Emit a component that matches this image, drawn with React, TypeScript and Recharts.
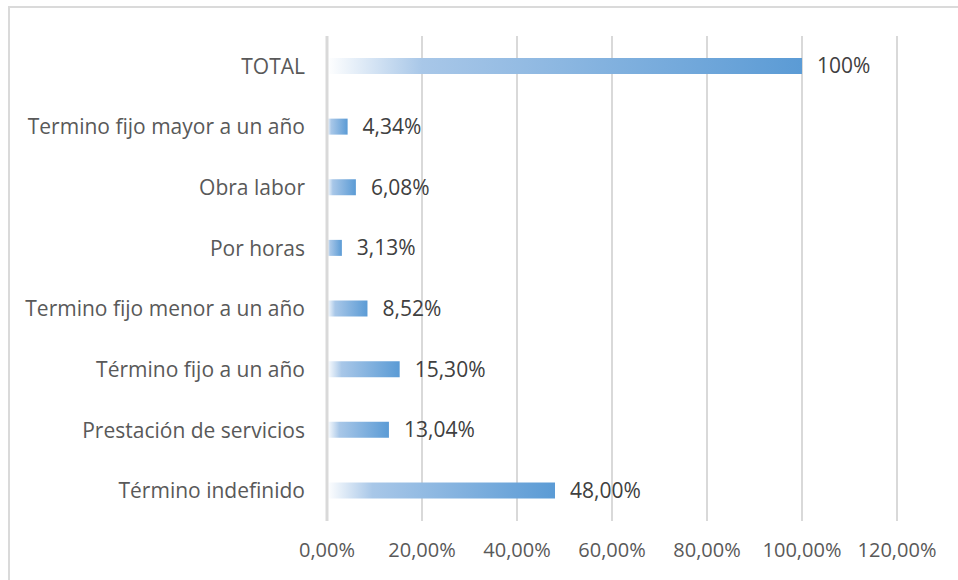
import React from 'react';
import { BarChart, Bar, XAxis, YAxis, CartesianGrid, LabelList } from 'recharts';

const categories = [
  'TOTAL',
  'Termino fijo mayor a un año',
  'Obra labor',
  'Por horas',
  'Termino fijo menor a un año',
  'Término fijo a un año',
  'Prestación de servicios',
  'Término indefinido',
];
const values = [100, 4.34, 6.08, 3.13, 8.52, 15.3, 13.04, 48.0];
const valueLabels = ['100%', '4,34%', '6,08%', '3,13%', '8,52%', '15,30%', '13,04%', '48,00%'];
const xTicks = [0, 20, 40, 60, 80, 100, 120];

const data = categories.map((c, i) => ({ name: c, value: values[i], label: valueLabels[i] }));

const FONT = '"Open Sans", sans-serif';
const fmtTick = (v: number) => v.toFixed(2).replace('.', ',') + '%';

export default function App() {
  return (
    <div style={{ position: 'absolute', left: 0, top: 0, width: 958, height: 580, overflow: 'hidden', background: '#fff' }}>
      <div style={{ position: 'absolute', left: 8, top: 6, width: 1000, height: 700, border: '2px solid #DADADA', boxSizing: 'border-box' }} />
      <div style={{ position: 'absolute', left: 0, top: 0 }}>
        <BarChart
          width={958}
          height={580}
          data={data}
          layout="vertical"
          margin={{ top: 36, right: 61, bottom: 0, left: 0 }}
          barSize={16}
        >
          <defs>
            <linearGradient id="barGrad" x1="0" y1="0" x2="1" y2="0">
              <stop offset="0%" stopColor="#FFFFFF" />
              <stop offset="20%" stopColor="#A8C7E8" />
              <stop offset="100%" stopColor="#5B9BD5" />
            </linearGradient>
          </defs>
          <CartesianGrid horizontal={false} stroke="#D9D9D9" strokeWidth={2} />
          <XAxis
            type="number"
            domain={[0, 120]}
            ticks={xTicks}
            tickFormatter={fmtTick}
            axisLine={false}
            tickLine={false}
            height={59}
            tickMargin={16}
            tick={{ fill: '#595959', fontSize: 20, fontFamily: FONT }}
          />
          <YAxis
            type="category"
            dataKey="name"
            width={327}
            axisLine={{ stroke: '#D9D9D9', strokeWidth: 3 }}
            tickLine={false}
            tickMargin={16}
            tick={{ fill: '#595959', fontSize: 21, fontFamily: FONT }}
          />
          <Bar dataKey="value" fill="url(#barGrad)" isAnimationActive={false}>
            <LabelList
              dataKey="label"
              position="right"
              offset={15}
              style={{ fill: '#404040', fontSize: 21, fontFamily: FONT }}
            />
          </Bar>
        </BarChart>
      </div>
    </div>
  );
}
